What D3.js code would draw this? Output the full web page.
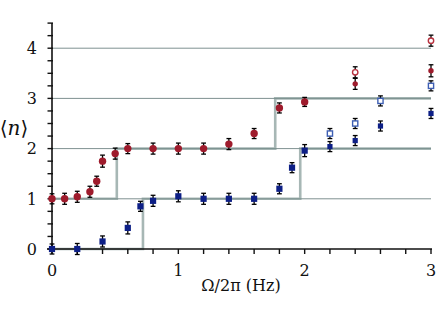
<!DOCTYPE html>
<html><head><meta charset="utf-8">
<script src="https://cdn.jsdelivr.net/npm/d3@7/dist/d3.min.js"></script>
<style>body{margin:0;background:#fff}svg{display:block}</style>
</head><body><div id="chart"></div>
<script>
// ---- data ----
const xTickLabels = [0, 1, 2, 3];
const yTickLabels = [0, 1, 2, 3, 4];
const gridLevels = [1, 2, 3, 4];

// red step (expected <n>): thresholds and levels
const redStepEdges = [0, 0.513, 1.767, 3];
const redStepLevels = [1, 2, 3];
// blue step
const blueStepEdges = [0, 0.72, 1.965, 3];
const blueStepLevels = [0, 1, 2];

// red filled circles
const redX   = [0, 0.1, 0.2, 0.3, 0.354, 0.4, 0.5, 0.6, 0.8, 1.0, 1.2, 1.4, 1.6, 1.8, 2.0];
const redY   = [1.0, 1.0, 1.04, 1.14, 1.35, 1.75, 1.9, 2.0, 2.0, 2.0, 2.0, 2.09, 2.3, 2.81, 2.93];
const redErr = [0.1, 0.11, 0.11, 0.11, 0.1, 0.12, 0.11, 0.1, 0.11, 0.11, 0.11, 0.11, 0.1, 0.1, 0.09];
// red filled, small (high frequency)
const redHighX = [2.4, 3.0];
const redHighY = [3.29, 3.55];
const redHighErr = [0.11, 0.12];
// red open circles
const redOpenX = [2.4, 3.0];
const redOpenY = [3.52, 4.15];
const redOpenErr = [0.11, 0.11];

// blue filled squares
const blueX   = [0, 0.2, 0.4, 0.6, 0.7, 0.8, 1.0, 1.2, 1.4, 1.6, 1.8, 1.9, 2.0];
const blueY   = [0.0, 0.0, 0.15, 0.42, 0.85, 0.96, 1.05, 1.0, 1.0, 1.0, 1.2, 1.62, 1.96];
const blueErr = [0.1, 0.11, 0.11, 0.12, 0.1, 0.11, 0.11, 0.11, 0.11, 0.11, 0.1, 0.1, 0.12];
// blue filled, small (high frequency)
const blueHighX = [2.2, 2.4, 2.6, 3.0];
const blueHighY = [2.04, 2.16, 2.45, 2.7];
const blueHighErr = [0.1, 0.1, 0.1, 0.1];
// blue open squares
const blueOpenX = [2.2, 2.4, 2.6, 3.0];
const blueOpenY = [2.3, 2.5, 2.95, 3.25];
const blueOpenErr = [0.1, 0.1, 0.1, 0.1];

// ---- layout ----
const W = 444, H = 317;
const x = d3.scaleLinear().domain([0, 3]).range([52, 431]);
const y = d3.scaleLinear().domain([0, 4]).range([249, 48.2]);
const FONT = "'DejaVu Serif', 'Liberation Serif', serif";

const svg = d3.select("#chart").append("svg").attr("width", W).attr("height", H);

const RED = "#9e1b2c", BLUE = "#0d1f86", RED_OPEN = "#b8323f", BLUE_OPEN = "#3e5fb3";

// gridlines
svg.append("g").selectAll("line").data(gridLevels).join("line")
  .attr("x1", x(0)).attr("x2", x(3))
  .attr("y1", d => y(d)).attr("y2", d => y(d))
  .attr("stroke", "#7f9191").attr("stroke-width", 1);

// steps
function stepPath(edges, levels) {
  const pts = [];
  levels.forEach((lv, i) => { pts.push([edges[i], lv]); pts.push([edges[i + 1], lv]); });
  return d3.line().x(d => x(d[0])).y(d => y(d[1]))(pts);
}
[[redStepEdges, redStepLevels], [blueStepEdges, blueStepLevels]].forEach(([e, l]) => {
  svg.append("path").attr("d", stepPath(e, l)).attr("fill", "none")
    .attr("stroke", "rgba(120,145,142,0.65)").attr("stroke-width", 2.6);
});

// axes
const ax = svg.append("g").attr("stroke", "#111").attr("fill", "none");
ax.append("line").attr("x1", 47).attr("x2", 432).attr("y1", y(0)).attr("y2", y(0)).attr("stroke-width", 1.6);
ax.append("line").attr("x1", x(0)).attr("x2", x(0)).attr("y1", y(0) + 1).attr("y2", y(4.5)).attr("stroke-width", 1.6);
const xMinor = d3.range(0, 3.0001, 0.2);
ax.selectAll(".xt").data(xMinor).join("line").attr("class", "xt")
  .attr("x1", d => x(d)).attr("x2", d => x(d)).attr("y1", y(0)).attr("y2", y(0) + 5).attr("stroke-width", 1.4);
const yMinor = d3.range(0, 4.5001, 0.25);
ax.selectAll(".yt").data(yMinor).join("line").attr("class", "yt")
  .attr("x1", x(0) - 4.5).attr("x2", x(0) + 1).attr("y1", d => y(d)).attr("y2", d => y(d)).attr("stroke-width", 1.4);

function txt(sel, size) {
  return sel.style("font-family", FONT).style("font-size", (size || 16) + "px").style("fill", "#111");
}
// tick labels
txt(svg.append("g").selectAll("text").data(xTickLabels).join("text")
  .attr("x", d => x(d)).attr("y", 276).attr("text-anchor", "middle")).text(d => d);
txt(svg.append("g").selectAll("text").data(yTickLabels).join("text")
  .attr("x", 37).attr("y", d => y(d) + 5.8).attr("text-anchor", "end")).text(d => d);

// axis titles
txt(svg.append("text").attr("x", 241).attr("y", 291).attr("text-anchor", "middle"))
  .text("Ω/2π (Hz)");
const yl = txt(svg.append("text").attr("x", 14).attr("y", 135).attr("text-anchor", "middle"), 20);
yl.append("tspan").text("⟨");
yl.append("tspan").style("font-style", "italic").text("n");
yl.append("tspan").text("⟩");

// error bars + markers
function series(xs, ys, es, kind, opts) {
  const data = xs.map((v, i) => ({ x: v, y: ys[i], e: es[i] }));
  const g = svg.append("g");
  const cw = 2.4;
  const eb = g.append("g").attr("stroke", "#000").attr("stroke-width", 1.3);
  data.forEach(d => {
    eb.append("line").attr("x1", x(d.x)).attr("x2", x(d.x)).attr("y1", y(d.y - d.e)).attr("y2", y(d.y + d.e));
    eb.append("line").attr("x1", x(d.x) - cw).attr("x2", x(d.x) + cw).attr("y1", y(d.y - d.e)).attr("y2", y(d.y - d.e));
    eb.append("line").attr("x1", x(d.x) - cw).attr("x2", x(d.x) + cw).attr("y1", y(d.y + d.e)).attr("y2", y(d.y + d.e));
  });
  if (kind === "circle") {
    g.selectAll("circle").data(data).join("circle")
      .attr("cx", d => x(d.x)).attr("cy", d => y(d.y)).attr("r", opts.r)
      .attr("fill", opts.fill).attr("stroke", opts.stroke || "none").attr("stroke-width", opts.sw || 0);
  } else {
    g.selectAll("rect").data(data).join("rect")
      .attr("x", d => x(d.x) - opts.s / 2).attr("y", d => y(d.y) - opts.s / 2)
      .attr("width", opts.s).attr("height", opts.s)
      .attr("fill", opts.fill).attr("stroke", opts.stroke || "none").attr("stroke-width", opts.sw || 0);
  }
}
series(redX, redY, redErr, "circle", { r: 3.7, fill: RED });
series(redHighX, redHighY, redHighErr, "circle", { r: 2.7, fill: RED });
series(redOpenX, redOpenY, redOpenErr, "circle", { r: 2.7, fill: "#fff", stroke: RED_OPEN, sw: 1.4 });
series(blueX, blueY, blueErr, "rect", { s: 6.2, fill: BLUE });
series(blueHighX, blueHighY, blueHighErr, "rect", { s: 5.2, fill: BLUE });
series(blueOpenX, blueOpenY, blueOpenErr, "rect", { s: 5.2, fill: "#fff", stroke: BLUE_OPEN, sw: 1.4 });
</script></body></html>
